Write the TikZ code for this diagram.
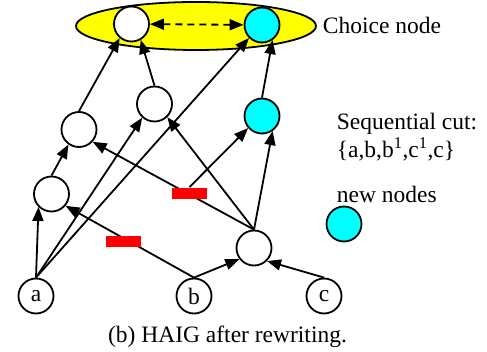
\documentclass[tikz,border=0pt]{standalone}
\usepackage{fontspec}
\setmainfont{Liberation Serif}
\usetikzlibrary{shapes.geometric,arrows.meta,backgrounds}
\definecolor{newcyan}{RGB}{0,255,255}
\definecolor{choiceyellow}{RGB}{255,255,0}
\definecolor{cutred}{RGB}{255,0,0}

\begin{document}
\begin{tikzpicture}[x=1pt, y=-1pt, line width=1.8pt, font=\fontsize{23.5}{28}\selectfont,
  haig/.style={circle, draw, fill=white, minimum size=35pt, inner sep=0pt},
  newnode/.style={haig, fill=newcyan},
  cutmark/.style={fill=cutred, minimum width=35pt, minimum height=11pt, inner sep=0pt},
  legendtext/.style={anchor=west, inner sep=0pt},
  haigedge/.style={line width=1.8pt, -{Triangle[length=14pt,width=11pt]}}]
\useasboundingbox (0,0) rectangle (487,352);
\begin{scope}[on background layer]
\node[ellipse, draw, line width=1.8pt, fill=choiceyellow, minimum width=240pt, minimum height=48pt, inner sep=0pt] (choice) at (196,26) {};
\end{scope}
% graph nodes
\node[haig] (t1) at (131.5,24) {};
\node[newnode] (t2) at (262,25) {};
\node[haig] (m) at (154.5,104) {};
\node[newnode] (c1) at (262,116) {};
\node[haig] (l) at (79,129.5) {};
\node[haig] (ll) at (51.5,194) {};
\node[haig] (r) at (254,248) {};
\node[haig] (a) at (36,296) {a};
\node[haig] (b) at (194,296) {b};
\node[haig] (c) at (324,296) {c};
\node[cutmark] (cut1) at (189.5,193.5) {};
\node[cutmark] (cut2) at (123.5,241.5) {};
% edges
\begin{scope}[on background layer]
\draw[haigedge] (l.north) -- (t1.-130);
\draw[haigedge] (m.north) -- (t1.-60);
\draw[haigedge] (c1.north) -- (t2.-55);
\draw[haigedge] (a.north) -- (t2.-135);
\draw[haigedge] (a.north) -- (m.-132);
\draw[haigedge] (a.north) -- (ll.-135);
\draw[haigedge] (ll.north) -- (l.-125);
\draw[haigedge] (r.north) -- (l.-42);
\draw[haigedge] (r.north) -- (m.-46);
\draw[haigedge] (r.north) -- (c1.-55);
\draw[haigedge] (cut1.north) -- (c1.-139);
\draw[haigedge] (b.north) -- (ll.-40);
\draw[haigedge] (b.north) -- (r.-143);
\draw[haigedge] (c.north) -- (r.-45);
\end{scope}
\draw[dash pattern=on 7pt off 5pt, {Triangle[length=14pt,width=11pt]}-{Triangle[length=14pt,width=11pt]}] (t1) -- (t2);
% legend
\node[legendtext] (choicelbl) at (322,25) {Choice node};
\node[legendtext] (seqlbl) at (336,124) {Sequential cut:};
\node[legendtext] (cutset) at (336,149) {\{a,b,b\textsuperscript{1},c\textsuperscript{1},c\}};
\node[legendtext] (newlbl) at (336,194) {new nodes};
\node[newnode] (legend) at (344,224) {};
\node (caption) at (227.5,337) {(b) HAIG after rewriting.};
\end{tikzpicture}
\end{document}
